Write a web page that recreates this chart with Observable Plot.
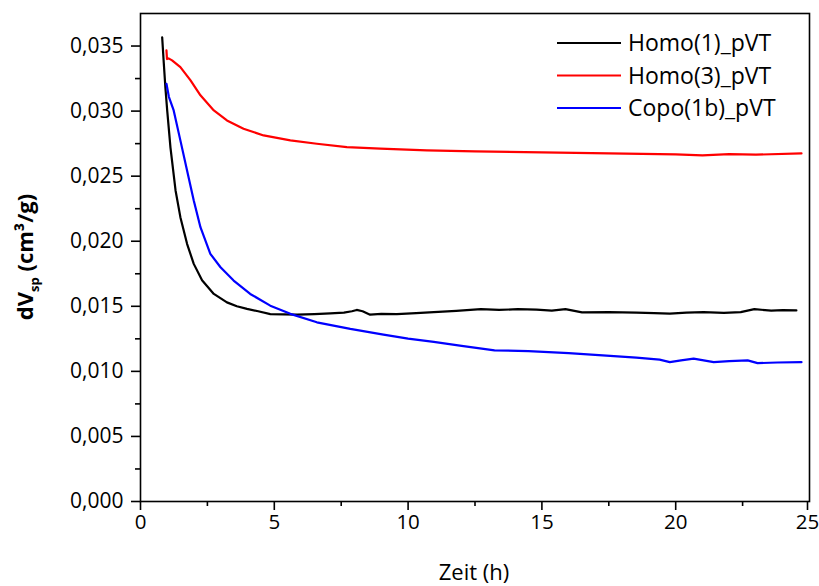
<!DOCTYPE html>
<html><head><meta charset="utf-8">
<script src="https://cdn.jsdelivr.net/npm/d3@7"></script>
<script src="https://cdn.jsdelivr.net/npm/@observablehq/plot@0.6"></script>
<style>
body{margin:0;background:#fff;}
#chart{position:relative;width:819px;height:586px;font-family:"Open Sans",sans-serif;}
</style></head><body><div id="chart"></div>
<script>
const seriesNames = ["Homo(1)_pVT","Homo(3)_pVT","Copo(1b)_pVT"];
const seriesColors = ["#000000","#ff0000","#0000ff"];

const homo1X = [0.81,0.87,0.93,1.0,1.12,1.31,1.49,1.74,1.99,2.30,2.74,3.23,3.6,3.98,4.4,4.85,5.35,5.85,6.5,7.09,7.6,7.9,8.08,8.3,8.58,9.0,9.58,10.3,10.96,11.8,12.72,13.4,14.1,14.8,15.37,15.88,16.5,17.5,18.53,19.2,19.78,20.4,21.04,21.8,22.43,22.94,23.57,24.0,24.51];
const homo1Y = [0.03567,0.0337,0.0318,0.0300,0.0272,0.0239,0.02185,0.0198,0.01826,0.0170,0.01595,0.0153,0.0150,0.0148,0.01462,0.0144,0.01438,0.01436,0.01440,0.01446,0.01452,0.01462,0.01472,0.01462,0.01436,0.01442,0.0144,0.01448,0.01455,0.01465,0.01478,0.01472,0.01478,0.01474,0.01467,0.01478,0.01453,0.01456,0.01452,0.01448,0.01444,0.01452,0.01455,0.01450,0.01455,0.01478,0.01467,0.01470,0.01468];

const homo3X = [0.97,0.99,1.05,1.18,1.49,1.87,2.24,2.74,3.23,3.85,4.6,5.6,6.59,7.71,8.96,10.7,12.5,15,17.5,20,21,22,23,24.7];
const homo3Y = [0.03467,0.0340,0.03405,0.0339,0.03338,0.03236,0.03121,0.03005,0.02928,0.02864,0.02813,0.02775,0.02749,0.02723,0.02711,0.02698,0.02690,0.02683,0.02675,0.02667,0.02660,0.02670,0.02665,0.02675];

const copoX = [0.97,1.06,1.24,1.49,1.74,1.99,2.24,2.61,2.99,3.48,4.1,4.85,5.6,6.59,7.84,9.08,10.0,10.96,12.0,13.23,14.5,16.0,17.27,18.53,19.4,19.78,20.2,20.67,21.42,22.0,22.69,23.06,23.8,24.7];
const copoY = [0.0321,0.0311,0.03005,0.02775,0.02544,0.02313,0.02108,0.01903,0.0180,0.01698,0.01595,0.01505,0.01442,0.01377,0.01326,0.01282,0.01252,0.01226,0.01196,0.01162,0.01155,0.0114,0.01123,0.01105,0.01090,0.01071,0.01085,0.01098,0.01071,0.01078,0.01084,0.01063,0.01068,0.01071];

const xTicks = [0,5,10,15,20];
const xTickLast = [25];
const xMinor = [2.5,7.5,12.5,17.5,22.5];
const yTicks = [0,0.005,0.010,0.015,0.020,0.025,0.030,0.035];
const yMinor = [0.0025,0.0075,0.0125,0.0175,0.0225,0.0275,0.0325];

const rows = [];
[[homo1X,homo1Y],[homo3X,homo3Y],[copoX,copoY]].forEach(([xs,ys],i)=>{
  xs.forEach((x,j)=>rows.push({series:seriesNames[i], x, y:ys[j]}));
});

const fmt = d => d3.format(".3f")(d).replace(".", ",");

const chart = Plot.plot({
  width: 819, height: 586,
  marginLeft: 140, marginRight: 10, marginTop: 13, marginBottom: 85,
  style: {fontFamily: "Open Sans, sans-serif", fontSize: "21px", color: "#000", background: "#fff"},
  x: {domain: [0, 25]},
  y: {domain: [0, 0.0375]},
  color: {domain: seriesNames, range: seriesColors},
  marks: [
    Plot.line(rows, {x: "x", y: "y", z: "series", stroke: "series", strokeWidth: 2.2}),
    Plot.frame({stroke: "#000", strokeWidth: 1.6}),
    Plot.axisX(xTicks, {tickSize: 9, tickPadding: 4, tickFormat: d => String(d), label: null, strokeWidth: 1.6, fontSize: 20.5}),
    Plot.axisX(xTickLast, {tickSize: 9, tickPadding: 4, tickFormat: d => String(d), label: null, strokeWidth: 1.6, fontSize: 20.5, dx: -2}),
    Plot.axisX(xMinor, {tickSize: 5, text: null, label: null, strokeWidth: 1.6}),
    Plot.axisY(yTicks, {tickSize: 9, tickPadding: 8, tickFormat: fmt, label: null, strokeWidth: 1.6, fontSize: 21}),
    Plot.axisY(yMinor, {tickSize: 5, text: null, label: null, strokeWidth: 1.6})
  ]
});

const svg = d3.select(chart);
// axis titles
svg.append("text").attr("x", 474).attr("y", 580)
  .attr("text-anchor", "middle").style("font-size", "22px").attr("fill", "#000")
  .text("Zeit (h)");
const yl = svg.append("text").attr("transform", "translate(33,257) rotate(-90)")
  .attr("text-anchor", "middle").style("font-size", "22px").style("font-weight", "bold").attr("fill", "#000");
yl.append("tspan").text("dV");
yl.append("tspan").style("font-size", "13px").attr("dy", 6).text("sp");
yl.append("tspan").attr("dy", -6).text(" (cm³/g)");

// legend
const lg = svg.append("g");
seriesNames.forEach((n, i) => {
  const y = 43 + i * 32.5;
  lg.append("line").attr("x1", 557).attr("x2", 621).attr("y1", y).attr("y2", y)
    .attr("stroke", seriesColors[i]).attr("stroke-width", 2.2);
  lg.append("text").attr("x", 628).attr("y", y).attr("dy", "0.35em")
    .attr("text-anchor", "start")
    .style("font-size", "23px").attr("fill", "#000").text(n);
});

document.getElementById("chart").appendChild(chart);
</script></body></html>
